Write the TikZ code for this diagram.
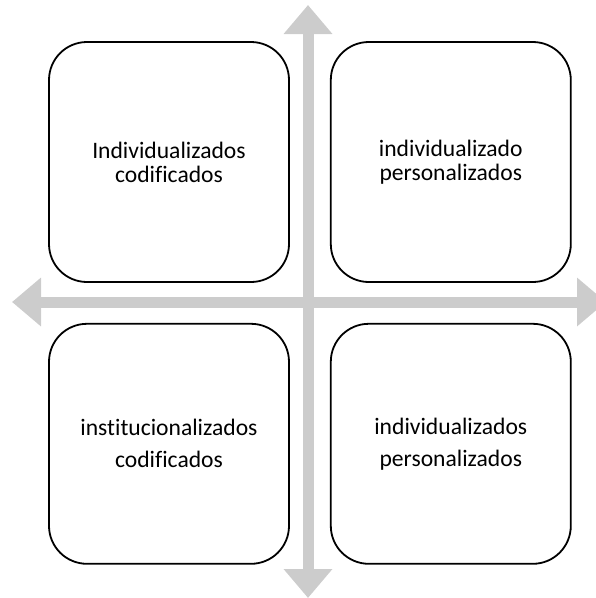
\documentclass[tikz,border=0pt]{standalone}
\usepackage{fontspec}
\setmainfont{Carlito}[Ligatures=NoCommon]
\usetikzlibrary{arrows.meta, positioning}
\definecolor{axisGray}{RGB}{204, 204, 204}
\colorlet{axis color}{axisGray}
\colorlet{box edge}{black}
\tikzset{
    axis/.style={draw=axis color, line width=11pt,
        {Triangle[width=47pt, length=29pt]}-{Triangle[width=47pt, length=29pt]}},
    quadrant/.style={draw=box edge, fill=white, line width=1.8pt,
        rounded corners=38pt, minimum width=240pt, minimum height=240pt,
        align=center, inner sep=0pt},
    tight/.style={font=\fontsize{23.6}{24}\selectfont},
    loose/.style={font=\fontsize{23.6}{32}\selectfont}
}
\begin{document}
\begin{tikzpicture}[x=1pt, y=-1pt]
        % Fix the page size
        \useasboundingbox (0,0) rectangle (596,598);

        % Ends of the two axes
        \coordinate (top) at (308,5);
        \coordinate (bottom) at (308,598);
        \coordinate (left) at (12,302);
        \coordinate (right) at (606,302);

        % Draw the axes
        \draw[axis] (top) -- (bottom);
        \draw[axis] (left) -- (right);

        % Draw the four quadrants
        \node[quadrant, tight] (indCod) at (169,162) {Individualizados\\codificados};
        \node[quadrant, tight, right=40pt of indCod] (indPers) {individualizado\\personalizados};
        \node[quadrant, loose, below=40pt of indCod] (instCod) {institucionalizados\\codificados};
        \node[quadrant, loose, right=40pt of instCod] (indsPers) {individualizados\\personalizados};
    \end{tikzpicture}
\end{document}
